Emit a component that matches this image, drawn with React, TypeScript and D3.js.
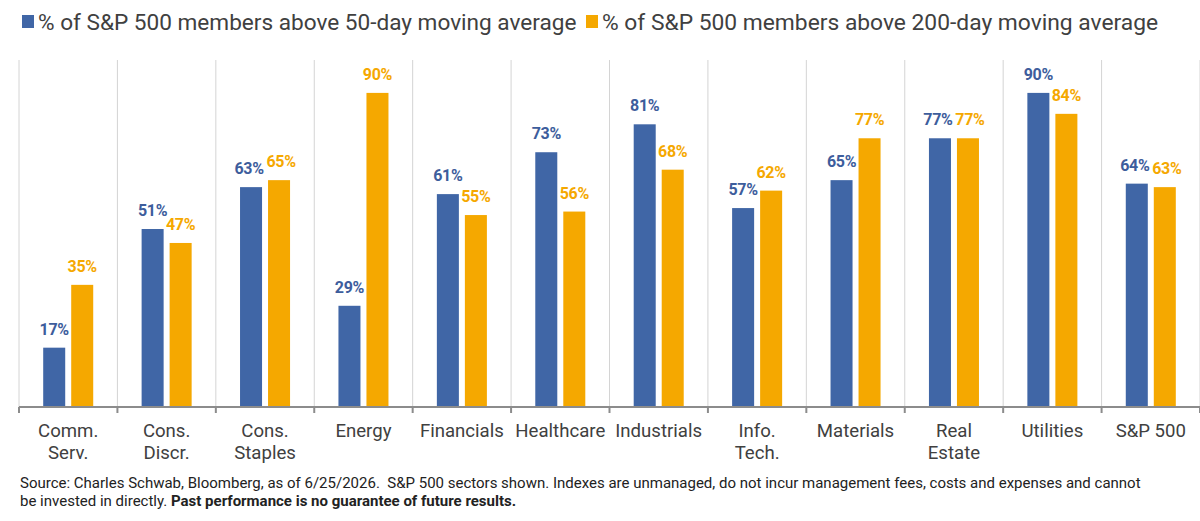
import * as d3 from "d3";
import type { ReactElement } from "react";

const categories: string[][] = [
  ["Comm.", "Serv."],
  ["Cons.", "Discr."],
  ["Cons.", "Staples"],
  ["Energy"],
  ["Financials"],
  ["Healthcare"],
  ["Industrials"],
  ["Info.", "Tech."],
  ["Materials"],
  ["Real", "Estate"],
  ["Utilities"],
  ["S&P 500"],
];

const above50 = [17, 51, 63, 29, 61, 73, 81, 57, 65, 77, 90, 64];
const above200 = [35, 47, 65, 90, 55, 56, 68, 62, 77, 77, 84, 63];

const seriesNames = [
  "% of S&P 500 members above 50-day moving average",
  "% of S&P 500 members above 200-day moving average",
];

const BLUE = "#4066a6";
const BLUE_LABEL = "#3d5d9c";
const ORANGE = "#f5a800";
const TEXT = "#404040";
const FONT = "Roboto, 'Noto Sans', sans-serif";

const width = 1200;
const height = 521;
const margin = { top: 58, right: 0, bottom: 114, left: 19 } as const;

export default function App(): ReactElement {
  const keys = categories.map((c) => c.join(" "));
  const baseY = height - margin.bottom;

  const x = d3.scaleBand<string>().domain(keys).range([margin.left, width - margin.right]);
  const xInner = d3
    .scaleBand<number>()
    .domain([0, 1])
    .range([0, x.bandwidth()])
    .paddingInner(0.214)
    .paddingOuter(0.864);
  const y = d3.scaleLinear().domain([0, 100]).range([baseY, margin.top]);

  const series = [
    { values: above50, fill: BLUE, label: BLUE_LABEL },
    { values: above200, fill: ORANGE, label: ORANGE },
  ];

  const boundaries = keys.map((k) => x(k) ?? 0).concat([width - margin.right]);

  // labels of nearly equal bars collide; nudge them apart a little
  const nudge = (si: number, i: number): number => {
    const diff = Math.abs(above50[i] - above200[i]);
    if (diff > 3) return 0;
    return si === 0 ? -2 : 2;
  };

  return (
    <svg
      width={width}
      height={height}
      viewBox={`0 0 ${width} ${height}`}
      style={{ position: "absolute", left: 0, top: 0, background: "#fff" }}
      fontFamily={FONT}
    >
      {/* legend */}
      <rect x={22} y={15} width={12} height={13} fill={BLUE} />
      <text x={38} y={30} fontSize={22.6} fill={TEXT}>
        {seriesNames[0]}
      </text>
      <rect x={586} y={15} width={12} height={13} fill={ORANGE} />
      <text x={602} y={30} fontSize={22.8} fill={TEXT}>
        {seriesNames[1]}
      </text>

      {/* vertical category separators */}
      {boundaries.map((bx, i) => (
        <line key={`g-${i}`} x1={bx} x2={bx} y1={margin.top + 2} y2={baseY} stroke="#d4d4d4" strokeWidth={1} />
      ))}

      {/* bars */}
      {series.map((s, si) =>
        keys.map((k, i) => {
          const bx = (x(k) ?? 0) + (xInner(si) ?? 0);
          const by = y(s.values[i]);
          return (
            <g key={`b-${si}-${i}`}>
              <rect x={bx} y={by} width={xInner.bandwidth()} height={baseY - by} fill={s.fill} />
              <text
                x={bx + xInner.bandwidth() / 2 + nudge(si, i)}
                y={by - 13}
                textAnchor="middle"
                fontSize={16}
                fontWeight={700}
                letterSpacing={-0.3}
                fill={s.label}
              >
                {`${s.values[i]}%`}
              </text>
            </g>
          );
        }),
      )}

      {/* axis */}
      <line x1={margin.left} x2={width} y1={baseY} y2={baseY} stroke="#8c8c8c" strokeWidth={2} />
      {boundaries.map((bx, i) => (
        <line key={`t-${i}`} x1={bx} x2={bx} y1={baseY} y2={baseY + 6} stroke="#8c8c8c" strokeWidth={2} />
      ))}

      {categories.map((lines, i) => {
        const cx = (x(keys[i]) ?? 0) + x.bandwidth() / 2;
        return (
          <text key={`c-${i}`} x={cx} y={437} textAnchor="middle" fontSize={18.6} fill={TEXT}>
            {lines.map((ln, j) => (
              <tspan key={j} x={cx} dy={j === 0 ? 0 : 22}>
                {ln}
              </tspan>
            ))}
          </text>
        );
      })}

      {/* footnote */}
      <text x={20} y={488} fontSize={15} fill="#222">
        Source: Charles Schwab, Bloomberg, as of 6/25/2026.&#160; S&amp;P 500 sectors shown. Indexes are unmanaged, do not incur management fees, costs and expenses and cannot
      </text>
      <text x={20} y={506} fontSize={15} fill="#222">
        be invested in directly. <tspan fontWeight={700}>Past performance is no guarantee of future results.</tspan>
      </text>
    </svg>
  );
}
